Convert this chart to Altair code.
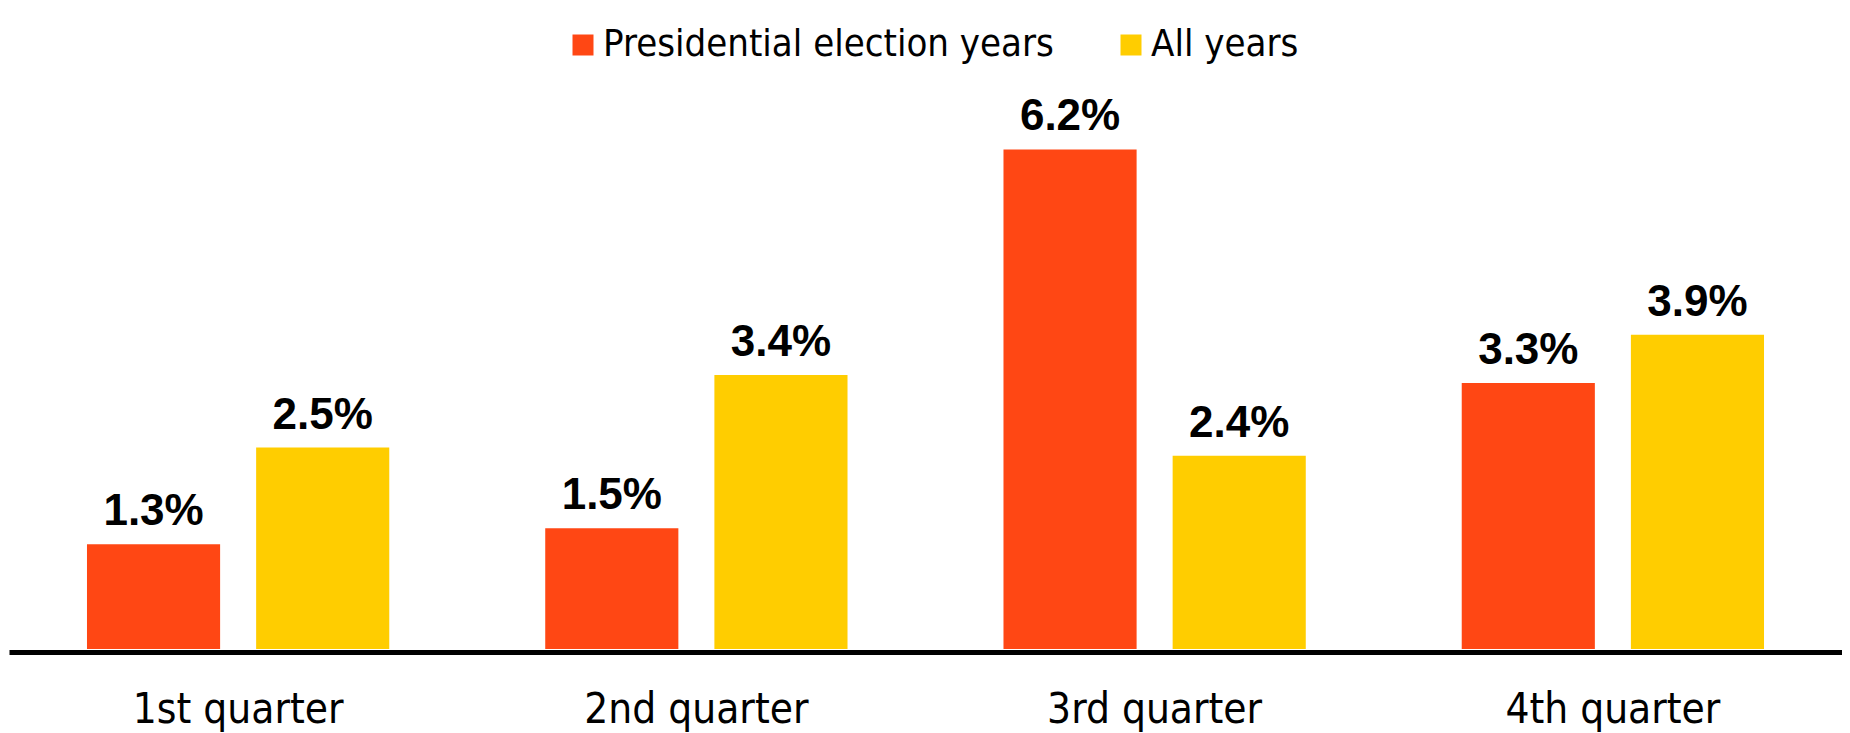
import altair as alt
import pandas as pd

quarters = ["1st quarter", "2nd quarter", "3rd quarter", "4th quarter"]
series_names = ["Presidential election years", "All years"]
election_years = [1.3, 1.5, 6.2, 3.3]
all_years = [2.5, 3.4, 2.4, 3.9]
colors = ["#FF4714", "#FFCD00"]

rows = []
for q, e, a in zip(quarters, election_years, all_years):
    rows.append({"quarter": q, "series": series_names[0], "value": e})
    rows.append({"quarter": q, "series": series_names[1], "value": a})
df = pd.DataFrame(rows)

base = alt.Chart(df).encode(
    x=alt.X(
        "quarter:N",
        sort=quarters,
        title=None,
        scale=alt.Scale(paddingInner=0, paddingOuter=0),
        axis=alt.Axis(
            domain=True,
            domainColor="black",
            domainWidth=5,
            ticks=False,
            tickSize=0,
            labelAngle=0,
            labelFont="DejaVu Sans Condensed",
            labelFontSize=42,
            labelColor="black",
            labelBaseline="alphabetic",
            labelPadding=70,
            labelLimit=600,
            offset=3,
            grid=False,
        ),
    ),
    xOffset=alt.XOffset(
        "series:N",
        sort=series_names,
        scale=alt.Scale(paddingInner=0.213, paddingOuter=0.461),
    ),
    y=alt.Y("value:Q", axis=None, scale=alt.Scale(domain=[0, 7], nice=False, zero=True)),
)

bars = base.mark_bar().encode(
    color=alt.Color(
        "series:N",
        sort=series_names,
        scale=alt.Scale(domain=series_names, range=colors),
        legend=alt.Legend(
            title=None,
            orient="none",
            direction="horizontal",
            legendX=555,
            legendY=-59,
            symbolType="square",
            symbolSize=441,
            symbolStrokeWidth=0,
            labelFont="DejaVu Sans Condensed",
            labelFontSize=38,
            labelColor="black",
            labelOffset=1,
            labelLimit=800,
            columnPadding=58,
            padding=0,
        ),
    )
)

labels = base.transform_calculate(
    label="format(datum.value, '.1f') + '%'"
).mark_text(
    font="Liberation Sans",
    fontWeight="bold",
    fontSize=44,
    color="black",
    baseline="alphabetic",
    dy=-19,
).encode(text="label:N")

chart = (
    alt.layer(bars, labels)
    .properties(
        width=1833,
        height=564,
        padding={"left": 1, "top": 77, "right": 0, "bottom": 84},
        autosize=alt.AutoSizeParams(type="none"),
        view=alt.ViewBackground(stroke="transparent", strokeWidth=0),
    )
    .configure_view(strokeWidth=0, stroke="transparent")
    .configure(background="white")
)

chart.save("out.html", embed_options={"renderer": "svg", "actions": False})
